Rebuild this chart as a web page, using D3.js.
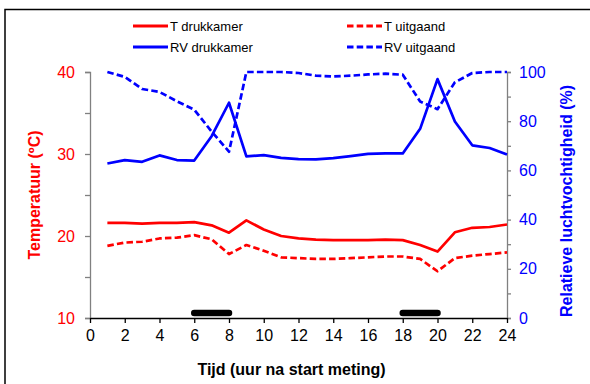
<!DOCTYPE html>
<html>
<head>
<meta charset="utf-8">
<script src="https://cdn.jsdelivr.net/npm/d3@7"></script>
<style>
  html, body { margin: 0; padding: 0; background: #fff; }
  svg { display: block; font-family: "Liberation Sans", Arial, sans-serif; }
</style>
</head>
<body>
<svg id="chart" width="590" height="384"></svg>
<script>
// Hourly measurements, hours 1..24
const hours = d3.range(1, 25);
const tDrukkamer = [21.6, 21.6, 21.5, 21.6, 21.6, 21.7, 21.3, 20.4, 21.9, 20.8, 20.0, 19.7,
                    19.55, 19.5, 19.5, 19.5, 19.55, 19.5, 18.9, 18.1, 20.45, 21.0, 21.1, 21.4];
const tUitgaand  = [18.8, 19.2, 19.3, 19.7, 19.8, 20.1, 19.6, 17.8, 18.9, 18.2, 17.4, 17.3,
                    17.2, 17.2, 17.3, 17.4, 17.5, 17.5, 17.2, 15.7, 17.3, 17.6, 17.8, 18.0];
const rvDrukkamer = [62.8, 64.2, 63.5, 66.1, 64.2, 64.0, 73.9, 87.5, 65.7, 66.2, 65.1, 64.6,
                     64.5, 65.0, 65.8, 66.7, 66.9, 66.9, 76.9, 97.1, 79.9, 70.2, 69.1, 66.5];
const rvUitgaand  = [100, 98.0, 93.1, 91.9, 88.1, 84.7, 75.8, 67.6, 100, 100, 100, 99.6,
                     98.5, 98.2, 98.5, 99.0, 99.3, 98.9, 88.0, 84.9, 95.8, 99.6, 100, 100];

// Periods marked by the black bars (hours)
const periods = [[6, 8], [18, 20]];
const periodLevel = 10.6; // °C, just above the axis

// Axis ticks
const xTicks = d3.range(0, 25, 2);
const tTicks = [10, 15, 20, 25, 30, 35, 40];
const tLabels = [10, 20, 30, 40];
const rvTicks = d3.range(0, 101, 10);
const rvLabels = [0, 20, 40, 60, 80, 100];

const legendItems = [
  { name: "T drukkamer",  color: "#ff0000", dashed: false },
  { name: "T uitgaand",   color: "#ff0000", dashed: true },
  { name: "RV drukkamer", color: "#0000ff", dashed: false },
  { name: "RV uitgaand",  color: "#0000ff", dashed: true }
];

const svg = d3.select("#chart");
const RED = "#ff0000", BLUE = "#0000ff", GREY = "#808080";
const DASH = "6.5,3.2";

const x = d3.scaleLinear().domain([0, 24]).range([90, 507]);
const yT = d3.scaleLinear().domain([10, 40]).range([318, 72]);
const yRV = d3.scaleLinear().domain([0, 100]).range([318, 72]);

// outer frame (only top/left edges fall inside the view)
svg.append("rect")
  .attr("x", 5).attr("y", 9.5).attr("width", 620).attr("height", 420)
  .attr("fill", "none").attr("stroke", "#000").attr("stroke-width", 1.5);

// left axis
const gL = svg.append("g").attr("transform", `translate(${x(0)},0)`)
  .call(d3.axisLeft(yT).tickValues(tTicks).tickSize(5)
    .tickFormat(d => tLabels.includes(d) ? d : ""));
gL.select(".domain").attr("stroke", GREY).attr("stroke-width", 1.3);
gL.selectAll(".tick line").attr("stroke", GREY).attr("stroke-width", 1.3);
gL.selectAll(".tick text").attr("fill", RED).attr("font-size", 16)
  .attr("font-family", "Liberation Sans, Arial, sans-serif").attr("x", -15);

// right axis
const gR = svg.append("g").attr("transform", `translate(${x(24)},0)`)
  .call(d3.axisRight(yRV).tickValues(rvTicks).tickSize(4)
    .tickFormat(d => rvLabels.includes(d) ? d : ""));
gR.select(".domain").attr("stroke", GREY).attr("stroke-width", 1.3);
gR.selectAll(".tick line").attr("stroke", GREY).attr("stroke-width", 1.3);
gR.selectAll(".tick text").attr("fill", BLUE).attr("font-size", 16)
  .attr("font-family", "Liberation Sans, Arial, sans-serif").attr("x", 12);

// bottom axis
const gB = svg.append("g").attr("transform", `translate(0,${yT(10)})`)
  .call(d3.axisBottom(x).tickValues(xTicks).tickSize(5).tickSizeOuter(0));
gB.select(".domain").attr("stroke", "#000").attr("stroke-width", 1.3);
gB.selectAll(".tick line").attr("stroke", "#000").attr("stroke-width", 1.3);
gB.selectAll(".tick text").attr("fill", "#000").attr("font-size", 16)
  .attr("font-family", "Liberation Sans, Arial, sans-serif").attr("y", 12);

// marked periods
svg.append("g").selectAll("line").data(periods).join("line")
  .attr("x1", d => x(d[0])).attr("x2", d => x(d[1]))
  .attr("y1", yT(periodLevel)).attr("y2", yT(periodLevel))
  .attr("stroke", "#000").attr("stroke-width", 6.5).attr("stroke-linecap", "round");

// series
function drawSeries(values, scale, color, dashed) {
  const line = d3.line().x((d, i) => x(hours[i])).y(d => scale(d));
  svg.append("path").datum(values)
    .attr("d", line).attr("fill", "none")
    .attr("stroke", color).attr("stroke-width", 2.7)
    .attr("stroke-linejoin", "round")
    .attr("stroke-dasharray", dashed ? DASH : null);
}
drawSeries(rvUitgaand, yRV, BLUE, true);
drawSeries(rvDrukkamer, yRV, BLUE, false);
drawSeries(tUitgaand, yT, RED, true);
drawSeries(tDrukkamer, yT, RED, false);

// axis titles
svg.append("text").text("Tijd (uur na start meting)")
  .attr("x", 291.5).attr("y", 375)
  .attr("text-anchor", "middle").attr("font-size", 16).attr("font-weight", "bold").attr("fill", "#000");
svg.append("text").text("Temperatuur (ºC)")
  .attr("transform", `translate(40,${(yT(10) + yT(40)) / 2}) rotate(-90)`)
  .attr("text-anchor", "middle").attr("font-size", 16).attr("font-weight", "bold").attr("fill", RED);
svg.append("text").text("Relatieve luchtvochtigheid (%)")
  .attr("transform", `translate(572,${(yRV(0) + yRV(100)) / 2 + 6}) rotate(-90)`)
  .attr("text-anchor", "middle").attr("font-size", 16).attr("font-weight", "bold").attr("fill", BLUE);

// legend
const leg = svg.append("g");
legendItems.forEach((item, i) => {
  const lx = i % 2 === 0 ? 133 : 347;
  const ly = i < 2 ? 26 : 47;
  leg.append("line").attr("x1", lx).attr("x2", lx + 35).attr("y1", ly).attr("y2", ly)
    .attr("stroke", item.color).attr("stroke-width", 2.8)
    .attr("stroke-dasharray", item.dashed ? DASH : null);
  leg.append("text").text(item.name).attr("x", lx + 37).attr("y", ly + 4.5)
    .attr("font-size", 13).attr("fill", "#000");
});
</script>
</body>
</html>
